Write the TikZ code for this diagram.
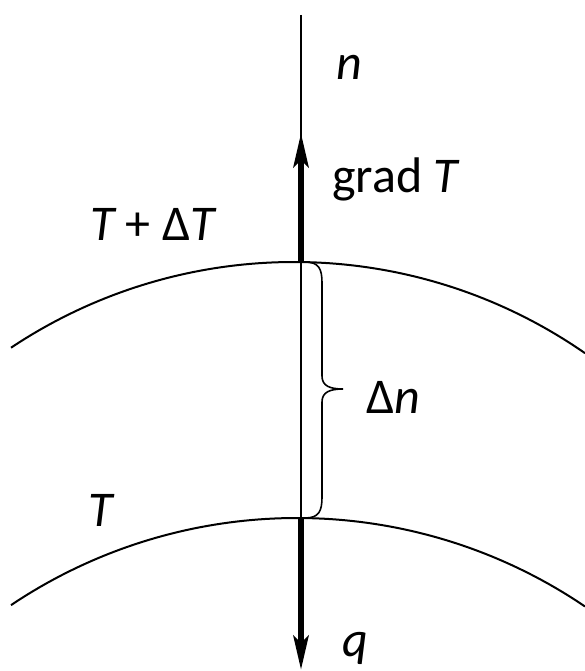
\documentclass[tikz,border=0pt]{standalone}
\usepackage{fontspec}
\setmainfont{Carlito}
\usetikzlibrary{arrows.meta,calc}
\begin{document}
\begin{tikzpicture}[x=1pt,y=-1pt,
  thin line/.style={line width=2pt},
  thick arrow/.style={line width=6pt,-{Stealth[length=34pt,width=15pt,inset=7pt]}},
  lbl/.style={anchor=base west,inner sep=0pt,font=\fontsize{50}{60}\selectfont}]
\useasboundingbox (0,0) rectangle (585,671);
% key points on the normal
\coordinate (top) at (301,15);
\coordinate (bot) at (301,666);
\coordinate (A) at (301,262);
\coordinate (B) at (301,518);
\coordinate (gtip) at (301,133);
\coordinate (qtip) at (301,670);
% isotherms
\draw[thin line] plot[domain=11:585,samples=80] (\x,{772-100*sqrt(5.1*5.1-((\x-294)/100)*((\x-294)/100))});
\draw[thin line] plot[domain=11:585,samples=80] (\x,{1031-100*sqrt(5.13*5.13-((\x-297)/100)*((\x-297)/100))});
% normal line
\draw[thin line] (top) -- (bot);
% gradient and heat flux arrows
\draw[thick arrow] (A) -- (gtip);
\draw[thick arrow] (B) -- (qtip);
% brace
\draw[line width=1.6pt] (A) -- ++(4,0) .. controls +(14,0) and +(0,-14) .. ++(17,21) -- (322,376)
  .. controls (322,386) and (330,389) .. (343,389)
  .. controls (330,389) and (322,392) .. (322,402)
  -- (322,497) .. controls +(0,14) and +(14,0) .. ($(B)+(4,0)$) -- (B);
% labels
\node[lbl] (ln) at (336,80) {\itshape n};
\node[lbl] (lgrad) at (332,192) {grad \itshape T};
\node[lbl] (ltdt) at (90,240) {\itshape T\upshape{} + Δ\itshape T};
\node[lbl] (ldn) at (366,413) {Δ\itshape n};
\node[lbl] (lt) at (88,526) {\itshape T};
\node[lbl] (lq) at (342,656) {\itshape q};
\end{tikzpicture}
\end{document}
